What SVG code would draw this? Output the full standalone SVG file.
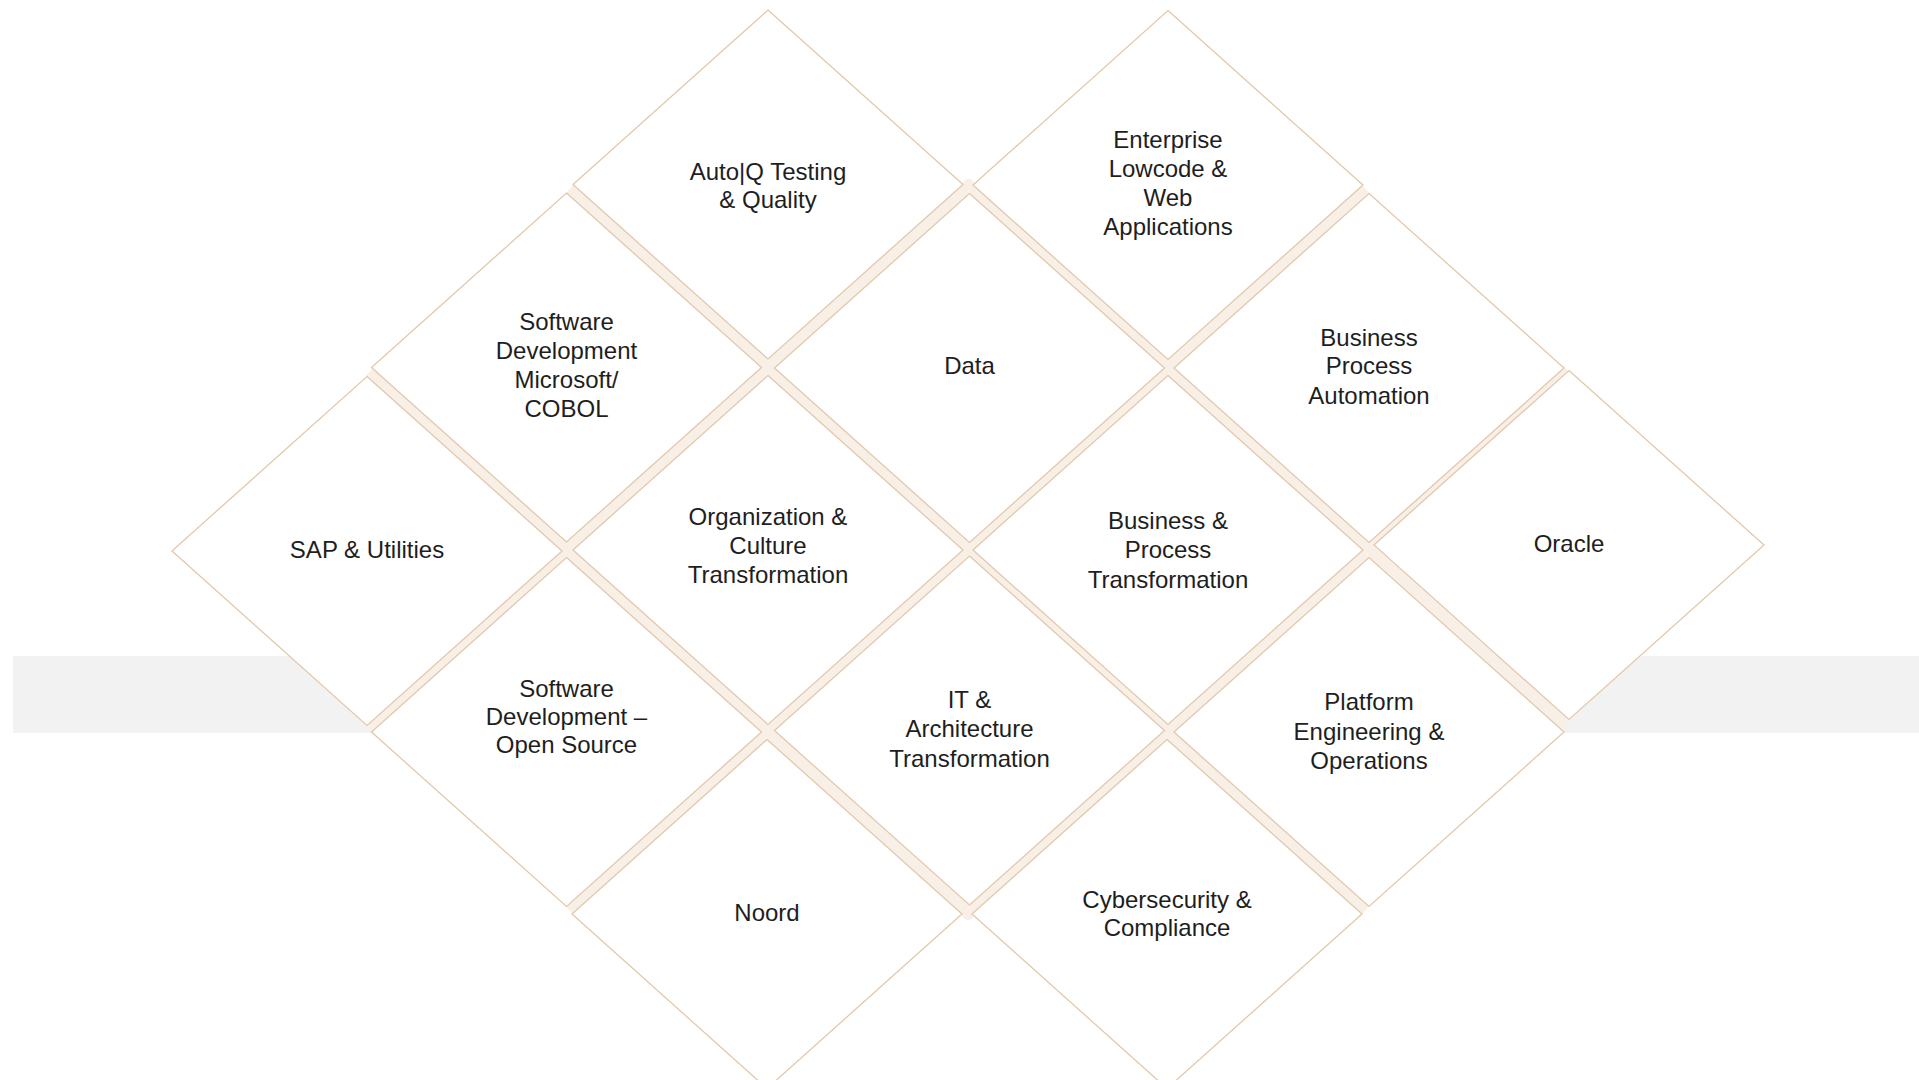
<svg xmlns="http://www.w3.org/2000/svg" xmlns:xlink="http://www.w3.org/1999/xlink" width="1919" height="1080" viewBox="0 0 1919 1080">
<style>
.dia{fill:#ffffff;stroke:#e3c8ab;stroke-width:1.3;stroke-linejoin:miter}
.gap{stroke:#f8efe6;stroke-width:11;stroke-linecap:butt;fill:none}
.jn{fill:#f8efe6}
.lbl{font-family:"Liberation Sans",Arial,sans-serif;font-size:24px;fill:#1e1e1e;text-anchor:middle}
</style>
<defs>
<polygon id="dm" points="0,-174.5 195,0 0,174.5 -195,0"/>
<line id="gr" x1="-97.5" y1="-87.25" x2="97.5" y2="87.25"/>
<line id="gd" x1="97.5" y1="-87.25" x2="-97.5" y2="87.25"/>
</defs>
<rect x="0" y="0" width="1919" height="1080" fill="#ffffff"/>
<rect id="band" x="13" y="656" width="1906" height="77" fill="#f2f2f2"/>
<g id="connectors" class="gap">
<use href="#gr" x="466.75" y="459.25"/>
<use href="#gd" x="466.75" y="641.5"/>
<use href="#gr" x="667.25" y="276"/>
<use href="#gd" x="667.25" y="458.75"/>
<use href="#gr" x="667.25" y="641"/>
<use href="#gd" x="666.75" y="823"/>
<use href="#gd" x="868.75" y="276.25"/>
<use href="#gr" x="868.75" y="459"/>
<use href="#gd" x="868.75" y="640.25"/>
<use href="#gr" x="868.25" y="822.25"/>
<use href="#gr" x="1068.75" y="276.5"/>
<use href="#gd" x="1068.75" y="459"/>
<use href="#gr" x="1068.75" y="640.25"/>
<use href="#gd" x="1068.25" y="822.25"/>
<use href="#gd" x="1268.5" y="276.5"/>
<use href="#gr" x="1268.5" y="459"/>
<use href="#gd" x="1268.5" y="641"/>
<use href="#gr" x="1268" y="823"/>
<use href="#gd" x="1469" y="456.5"/>
<use href="#gr" x="1469" y="638.5"/>
</g>
<g id="junctions" class="jn">
<circle cx="567" cy="550.5" r="7"/>
<circle cx="768" cy="367.75" r="7"/>
<circle cx="768" cy="731.25" r="7"/>
<circle cx="968.75" cy="184.75" r="6"/>
<circle cx="968.5" cy="550" r="7"/>
<circle cx="1169" cy="368" r="7"/>
<circle cx="1169" cy="731.25" r="7"/>
<circle cx="968" cy="914" r="6"/>
<circle cx="1368.5" cy="547.5" r="7"/>
</g>
<g id="sap">
<use href="#dm" x="367" y="551" class="dia"/>
<text class="lbl" x="367" y="558">SAP &amp; Utilities</text>
</g>
<g id="sd-microsoft">
<use href="#dm" x="566.5" y="367.5" class="dia"/>
<text class="lbl"><tspan x="566.5" y="330">Software</tspan><tspan x="566.5" y="359">Development</tspan><tspan x="566.5" y="388">Microsoft/</tspan><tspan x="566.5" y="417">COBOL</tspan></text>
</g>
<g id="sd-opensource">
<use href="#dm" x="566.5" y="732" class="dia"/>
<text class="lbl"><tspan x="566.5" y="697">Software</tspan><tspan x="566.5" y="725">Development –</tspan><tspan x="566.5" y="753">Open Source</tspan></text>
</g>
<g id="autoq">
<use href="#dm" x="768" y="184.5" class="dia"/>
<text class="lbl"><tspan x="768" y="180">Auto|Q Testing</tspan><tspan x="768" y="208">&amp; Quality</tspan></text>
</g>
<g id="organization">
<use href="#dm" x="768" y="550" class="dia"/>
<text class="lbl"><tspan x="768" y="525">Organization &amp;</tspan><tspan x="768" y="554">Culture</tspan><tspan x="768" y="583">Transformation</tspan></text>
</g>
<g id="noord">
<use href="#dm" x="767" y="914" class="dia"/>
<text class="lbl" x="767" y="921">Noord</text>
</g>
<g id="data">
<use href="#dm" x="969.5" y="368" class="dia"/>
<text class="lbl" x="969.5" y="374">Data</text>
</g>
<g id="it-architecture">
<use href="#dm" x="969.5" y="730.5" class="dia"/>
<text class="lbl"><tspan x="969.5" y="708">IT &amp;</tspan><tspan x="969.5" y="737">Architecture</tspan><tspan x="969.5" y="767">Transformation</tspan></text>
</g>
<g id="enterprise">
<use href="#dm" x="1168" y="185" class="dia"/>
<text class="lbl"><tspan x="1168" y="148">Enterprise</tspan><tspan x="1168" y="177">Lowcode &amp;</tspan><tspan x="1168" y="206">Web</tspan><tspan x="1168" y="235">Applications</tspan></text>
</g>
<g id="business-process-transformation">
<use href="#dm" x="1168" y="550" class="dia"/>
<text class="lbl"><tspan x="1168" y="529">Business &amp;</tspan><tspan x="1168" y="558">Process</tspan><tspan x="1168" y="588">Transformation</tspan></text>
</g>
<g id="cybersecurity">
<use href="#dm" x="1167" y="914" class="dia"/>
<text class="lbl"><tspan x="1167" y="908">Cybersecurity &amp;</tspan><tspan x="1167" y="936">Compliance</tspan></text>
</g>
<g id="bpa">
<use href="#dm" x="1369" y="368" class="dia"/>
<text class="lbl"><tspan x="1369" y="346">Business</tspan><tspan x="1369" y="374">Process</tspan><tspan x="1369" y="404">Automation</tspan></text>
</g>
<g id="platform">
<use href="#dm" x="1369" y="732" class="dia"/>
<text class="lbl"><tspan x="1369" y="710">Platform</tspan><tspan x="1369" y="740">Engineering &amp;</tspan><tspan x="1369" y="769">Operations</tspan></text>
</g>
<g id="oracle">
<use href="#dm" x="1569" y="545" class="dia"/>
<text class="lbl" x="1569" y="552">Oracle</text>
</g>
</svg>
